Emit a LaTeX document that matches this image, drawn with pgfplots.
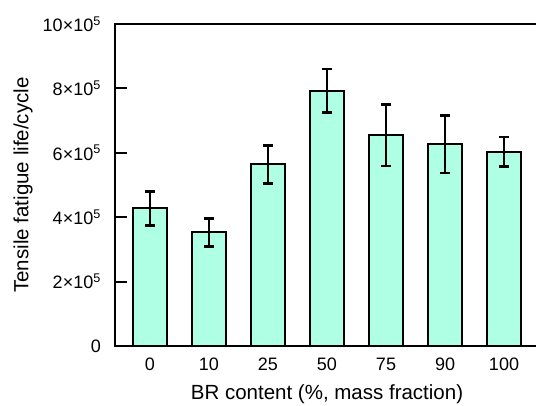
\documentclass[border=0pt]{standalone}
\usepackage{fontspec}
\setmainfont{Liberation Sans}
\usepackage{pgfplots}
\pgfplotsset{compat=1.18}
\definecolor{barfill}{RGB}{175,255,228}
\newcommand{\chartfont}{\fontsize{18}{21.6}\selectfont}
\newcommand{\labelfont}{\fontsize{20.5}{24}\selectfont}
\begin{document}
\begin{tikzpicture}
\begin{axis}[
  at={(0,0)}, anchor=south west,
  scale only axis, width=424pt, height=322pt,
  tick label style={font=\chartfont},
  label style={font=\labelfont},
  xmin=-0.593, xmax=6.593, ymin=0, ymax=10,
  axis line style={line width=2pt, black},
  xtick={0,1,2,3,4,5,6},
  xticklabels={0,10,25,50,75,90,100},
  xtick pos=bottom, ytick pos=left,
  major x tick style={draw=none},
  ytick={0,2,4,6,8,10},
  yticklabels={0,{2×10\textsuperscript{5}},{4×10\textsuperscript{5}},{6×10\textsuperscript{5}},{8×10\textsuperscript{5}},{10×10\textsuperscript{5}}},
  tick align=inside, major tick length=12pt,
  major y tick style={line width=2pt, black},
  yticklabel style={inner sep=0pt, xshift=-14pt},
  xticklabel style={inner sep=0pt, yshift=-12pt},
  xlabel={BR content (\%, mass fraction)},
  ylabel={Tensile fatigue life/cycle},
  xlabel style={at={(axis description cs:0.5,-0.149)}, anchor=center},
  ylabel style={at={(axis description cs:-0.217,0.5)}, anchor=center, rotate=0},
]
\addplot[ybar, bar width=34pt, fill=barfill, draw=black, line width=2pt,
  error bars/.cd, y dir=both, y explicit,
  error bar style={line width=2.8pt, black},
  error mark options={rotate=90, mark size=5pt, line width=2.8pt, black}]
coordinates {
  (0,4.28) +- (0,0.53)
  (1,3.53) +- (0,0.43)
  (2,5.64) +- (0,0.59)
  (3,7.92) +- (0,0.68)
  (4,6.55) +- (0,0.96)
  (5,6.27) +- (0,0.90)
  (6,6.03) +- (0,0.46)
};
\end{axis}
\pgfresetboundingbox
\path[use as bounding box] (-115pt,-59pt) rectangle (421pt,346pt);
\end{tikzpicture}
\end{document}
